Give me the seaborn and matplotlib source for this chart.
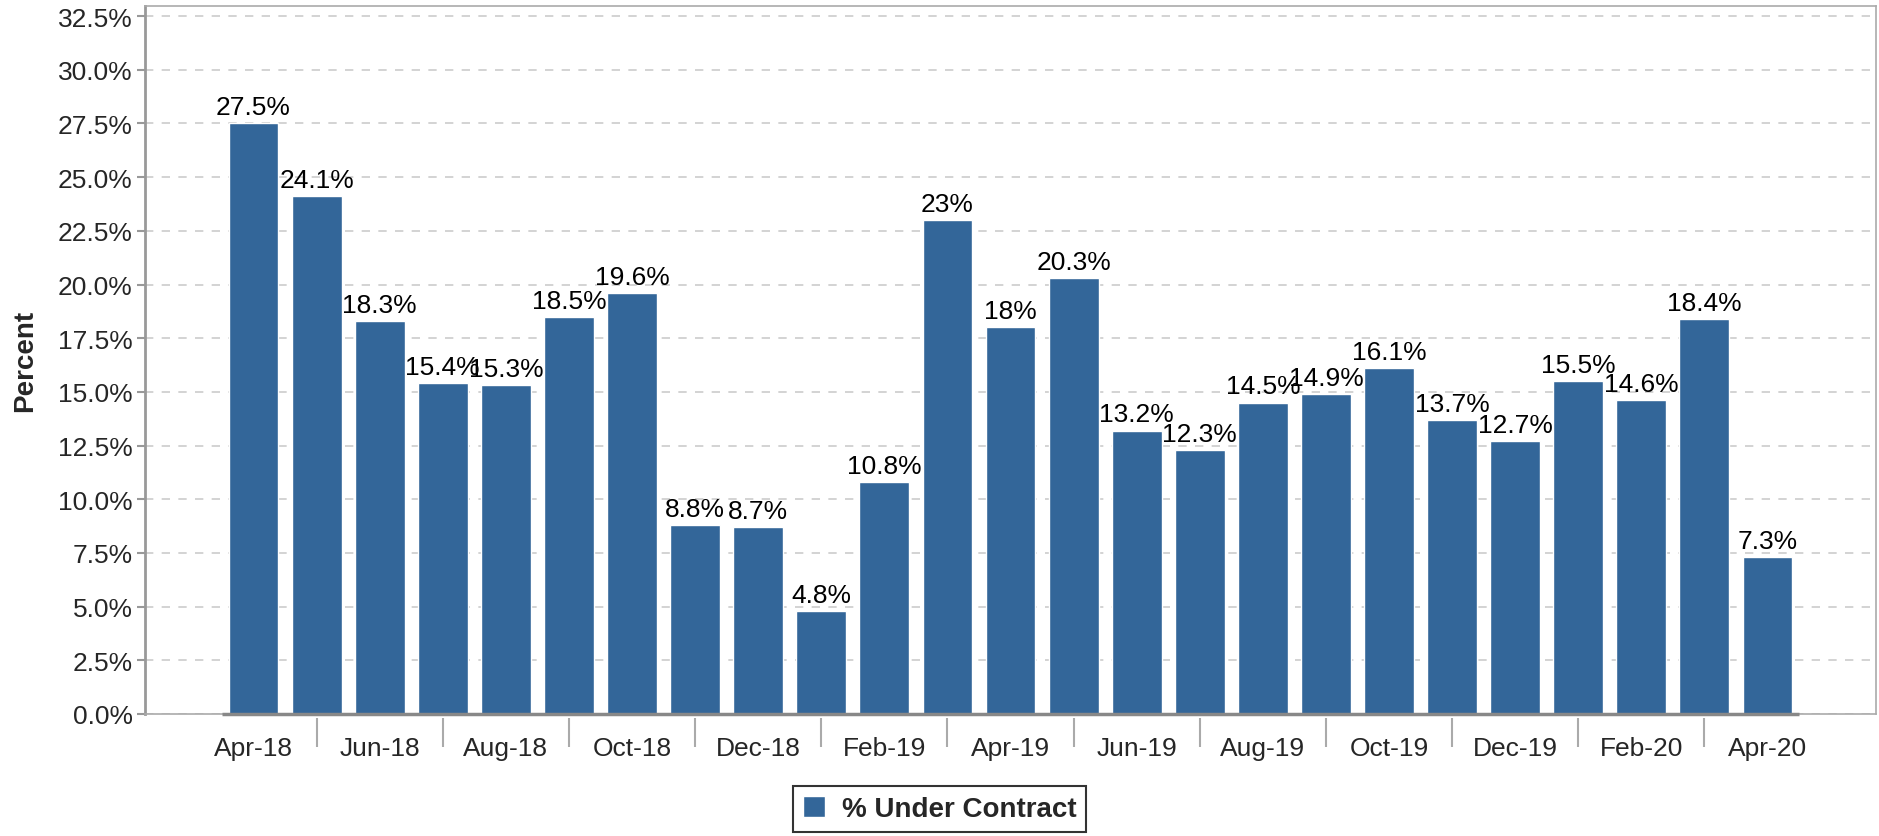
import numpy as np
import pandas as pd
import matplotlib
matplotlib.use("Agg")
import matplotlib.pyplot as plt
import matplotlib.transforms as mtransforms
import seaborn as sns

# data
months = ["Apr-18", "May-18", "Jun-18", "Jul-18", "Aug-18", "Sep-18", "Oct-18",
          "Nov-18", "Dec-18", "Jan-19", "Feb-19", "Mar-19", "Apr-19", "May-19",
          "Jun-19", "Jul-19", "Aug-19", "Sep-19", "Oct-19", "Nov-19", "Dec-19",
          "Jan-20", "Feb-20", "Mar-20", "Apr-20"]
pct_under_contract = [27.5, 24.1, 18.3, 15.4, 15.3, 18.5, 19.6, 8.8, 8.7, 4.8,
                      10.8, 23, 18, 20.3, 13.2, 12.3, 14.5, 14.9, 16.1, 13.7,
                      12.7, 15.5, 14.6, 18.4, 7.3]
series_name = "% Under Contract"
y_ticks = np.arange(0, 32.6, 2.5)

df = pd.DataFrame({"month": months, "pct": pct_under_contract})

sns.set_theme(style="white")
plt.rcParams["font.family"] = ["Liberation Sans", "DejaVu Sans"]

fig = plt.figure(figsize=(18.79, 8.37), dpi=100)
ax = fig.add_axes([0.0772, 0.1458, 0.9212, 0.8458])

sns.barplot(data=df, x="month", y="pct", color="#336699", saturation=1,
            width=0.79, label=series_name, ax=ax)

n = len(months)
ax.set_xlim(-1.72, n - 1 + 1.72)
ax.set_ylim(0, 32.97)

# bar labels
ax.bar_label(ax.containers[0], labels=[f"{v:g}%" for v in pct_under_contract],
             padding=3, fontsize=19, color="black")

# y axis
ax.set_yticks(y_ticks)
ax.set_yticklabels([f"{t:.1f}%" for t in y_ticks], fontsize=19)
ax.tick_params(axis="y", length=6, width=1.5, color="#999999", pad=3, left=True)
ax.yaxis.grid(True, linestyle=(0, (5, 5)), color="#cccccc", lw=1.2)
ax.set_axisbelow(True)
ax.set_ylabel("Percent", fontsize=20, fontweight="bold", labelpad=14)

# x axis: every second month labeled, separators between label groups
idx = np.arange(n)
ax.set_xticks(idx[::2])
ax.set_xticklabels(months[::2], fontsize=19)
ax.tick_params(axis="x", length=0, pad=16)
ax.set_xlabel("")
trans = mtransforms.blended_transform_factory(ax.transData, ax.transAxes)
ax.vlines(idx[1::2], -0.006, -0.047, transform=trans, colors="#aaaaaa",
          lw=1.5, clip_on=False)

# spines
for side in ["top", "right", "bottom"]:
    ax.spines[side].set_color("#aaaaaa")
    ax.spines[side].set_linewidth(1.2)
ax.spines["left"].set_color("#999999")
ax.spines["left"].set_linewidth(2)
ax.hlines(0, -0.5, n - 0.5, colors="#888888", lw=2.5, clip_on=False, zorder=3)

# legend at bottom
handles, labels = ax.get_legend_handles_labels()
leg = fig.legend(handles, labels, loc="center", bbox_to_anchor=(0.5, 0.032),
                 prop={"weight": "bold", "size": 20},
                 frameon=True, fancybox=False, edgecolor="black",
                 handlelength=0.8, handleheight=0.8, handletextpad=0.6,
                 borderpad=0.35)
leg.get_frame().set_linewidth(1.5)
if ax.get_legend() is not None:
    ax.get_legend().remove()

fig.savefig("out.png", dpi=100)
